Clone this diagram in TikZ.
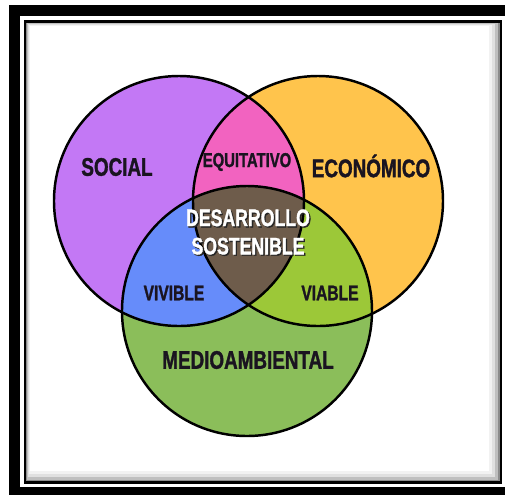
\documentclass[tikz,border=0pt]{standalone}
\usepackage{fontspec}
\setmainfont{Liberation Sans}[FakeStretch=0.74, BoldFeatures={FakeBold=1.3}]
\usepackage{tikz}
\usetikzlibrary{calc}

\definecolor{socialc}{HTML}{C378F5}
\definecolor{econc}{HTML}{FFC44C}
\definecolor{envc}{HTML}{8BBE5A}
\definecolor{equic}{HTML}{F263C0}
\definecolor{vivic}{HTML}{668CFA}
\definecolor{viabc}{HTML}{9CC838}
\definecolor{sostc}{HTML}{6E5C4B}
\definecolor{inkc}{HTML}{1A1420}

\tikzset{
  lbl/.style={font=\bfseries\fontsize{#1}{#1}\selectfont, text=inkc, inner sep=0pt},
  rim/.style={draw=black, line width=1.4pt}
}

\begin{document}
\begin{tikzpicture}[x=0.02cm,y=-0.02cm]
				\useasboundingbox (0,0) rectangle (505,495);
				\fill[white] (0,0) rectangle (505,495);
				% frame
				\fill[black] (9,5) rectangle (505,16);
				\fill[black] (9,5) rectangle (20,495);
				\fill[black] (9,487) rectangle (505,495);
				\fill[black!45] (26,22) rectangle (500,482);
				\fill[black!25] (27,23) rectangle (498,480);
				\fill[black!12] (28,24) rectangle (495,477);
				\fill[black!5] (29,25) rectangle (492,474);
				\fill[white] (30,26) rectangle (489,471);
				\draw[line width=1.7pt] (25,21.5) rectangle (501,482.5);
				% centres
				\coordinate (S) at (179,201);
				\coordinate (E) at (318,201);
				\coordinate (M) at (247,311);
				\def\rad{125}
				\fill[socialc] (S) circle (\rad);
				\fill[econc] (E) circle (\rad);
				\fill[envc] (M) circle (\rad);
				\begin{scope}
					\clip (S) circle (\rad);
					\fill[equic] (E) circle (\rad);
					\fill[vivic] (M) circle (\rad);
				\end{scope}
				\begin{scope}
					\clip (E) circle (\rad);
					\fill[viabc] (M) circle (\rad);
				\end{scope}
				\begin{scope}
					\clip (S) circle (\rad);
					\clip (E) circle (\rad);
					\fill[sostc] (M) circle (\rad);
				\end{scope}
				\draw[rim] (S) circle (\rad);
				\draw[rim] (E) circle (\rad);
				\draw[rim] (M) circle (\rad);
				% labels
				\node[lbl=14.5] (social) at (117,167) {SOCIAL};
				\node[lbl=14.5] (econ) at (371,166) {ECONÓMICO};
				\node[lbl=11.4] (equi) at (247,162) {EQUITATIVO};
				\node[lbl=12] (vivi) at (174,293) {VIVIBLE};
				\node[lbl=12] (viab) at (330,293) {VIABLE};
				\node[lbl=14.5] (medio) at (248,360) {MEDIOAMBIENTAL};
				\node[lbl=13.6, text=black!85, align=center] (dshadow) at (249.3,233.3)
					{DESARROLLO\\[2.5pt]SOSTENIBLE};
				\node[lbl=13.6, text=white, align=center] (desa) at (248,232)
					{DESARROLLO\\[2.5pt]SOSTENIBLE};
			\end{tikzpicture}
\end{document}
